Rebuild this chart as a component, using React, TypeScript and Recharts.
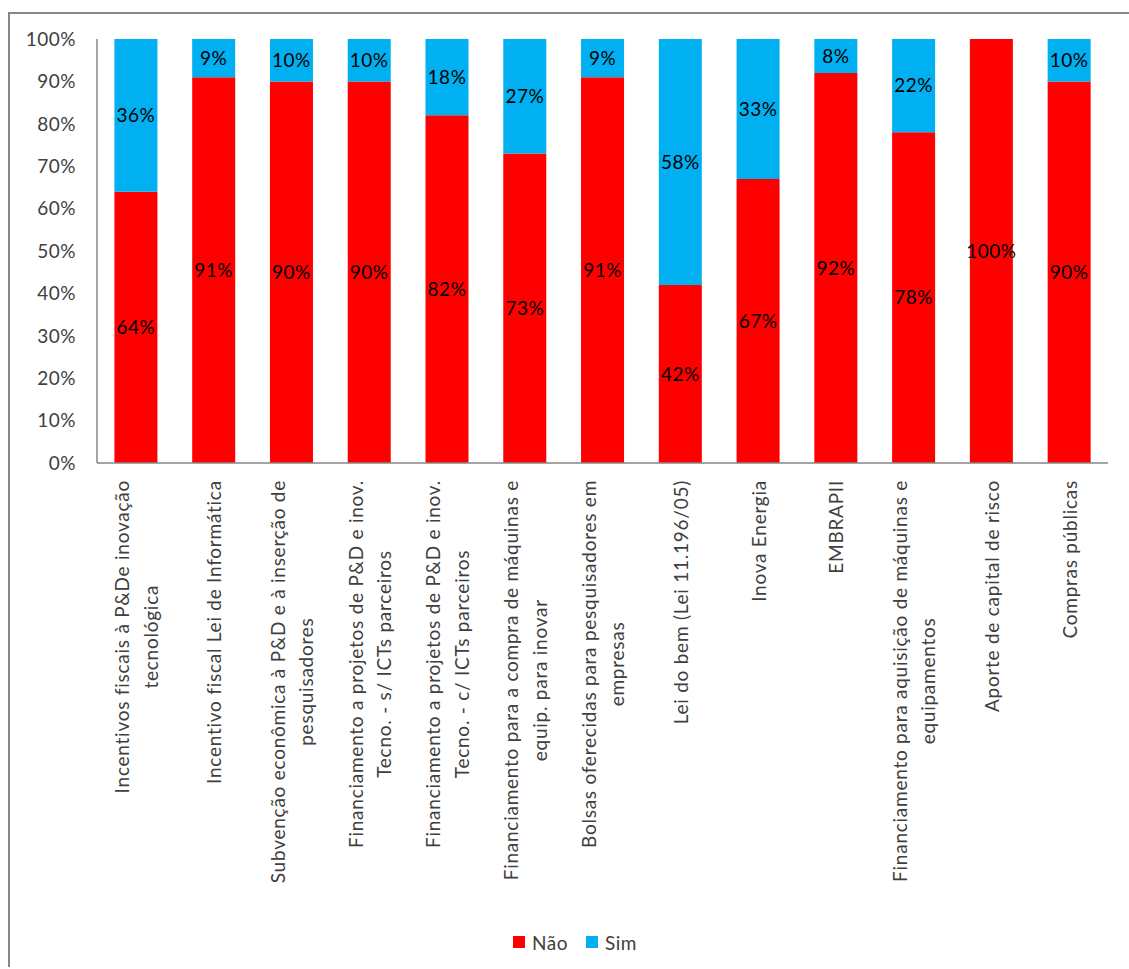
import React from 'react';
import { BarChart, Bar, XAxis, YAxis, Legend, LabelList } from 'recharts';

const categories: string[] = [
  'Incentivos fiscais à P&De inovação\ntecnológica',
  'Incentivo fiscal Lei de Informática',
  'Subvenção econômica à P&D e à inserção de\npesquisadores',
  'Financiamento a projetos de P&D e inov.\nTecno. - s/ ICTs parceiros',
  'Financiamento a projetos de P&D e inov.\nTecno. - c/ ICTs parceiros',
  'Financiamento para a compra de máquinas e\nequip. para inovar',
  'Bolsas oferecidas para pesquisadores em\nempresas',
  'Lei do bem (Lei 11.196/05)',
  'Inova Energia',
  'EMBRAPII',
  'Financiamento para aquisição de máquinas e\nequipamentos',
  'Aporte de capital de risco',
  'Compras públicas',
];

const naoValues: number[] = [64, 91, 90, 90, 82, 73, 91, 42, 67, 92, 78, 100, 90];
const simValues: number[] = [36, 9, 10, 10, 18, 27, 9, 58, 33, 8, 22, 0, 10];

const yTicks: number[] = [0, 10, 20, 30, 40, 50, 60, 70, 80, 90, 100];

const seriesNames = { nao: 'Não', sim: 'Sim' };
const colors = { nao: '#FF0000', sim: '#00B0F0' };

const data = categories.map((c, i) => ({ name: c, nao: naoValues[i], sim: simValues[i] }));

const FONT = 'Lato';
const FS = 19;
const LS = 0.75;
const LINE_H = 28.5;
const AXIS_COLOR = '#868686';
const TEXT_COLOR = '#404040';

let ctx: CanvasRenderingContext2D | null = null;
const measure = (s: string): number => {
  if (typeof document !== 'undefined') {
    if (!ctx) {
      const c = document.createElement('canvas');
      ctx = c.getContext('2d');
    }
    if (ctx) {
      ctx.font = `${FS}px ${FONT}`;
      return ctx.measureText(s).width + s.length * LS;
    }
  }
  return s.length * (FS * 0.5 + LS);
};

const XTick = (props: any) => {
  const { x, y, payload } = props;
  const lines: string[] = String(payload.value).split('\n');
  const maxW = Math.max(...lines.map(measure));
  const n = lines.length;
  const top = y + 17;
  return (
    <g transform={`translate(${x},${top}) rotate(-90)`}>
      {lines.map((ln, i) => (
        <text
          key={i}
          x={-maxW / 2}
          y={1 + 0.35 * FS + (i - (n - 1) / 2) * LINE_H}
          textAnchor="middle"
          fontFamily={FONT}
          fontSize={FS}
          letterSpacing={LS}
          fill={TEXT_COLOR}
        >
          {ln}
        </text>
      ))}
    </g>
  );
};

const LegendContent = (props: any) => {
  const payload = props.payload || [];
  return (
    <div style={{ height: 24, display: 'flex', alignItems: 'center', paddingLeft: 503, fontFamily: FONT, fontSize: FS, color: TEXT_COLOR, letterSpacing: 0.5 }}>
      {payload.map((p: any, i: number) => (
        <div key={i} style={{ display: 'flex', alignItems: 'center', marginRight: 18 }}>
          <span style={{ display: 'inline-block', width: 12, height: 12, background: p.color, marginRight: 7 }} />
          <span>{p.value}</span>
        </div>
      ))}
    </div>
  );
};

const pct = (v: any) => (Number(v) > 0 ? `${v}%` : '');

export default function App() {
  return (
    <div
      style={{
        position: 'absolute',
        left: 8,
        top: 12,
        width: 1121,
        height: 955,
        boxSizing: 'border-box',
        borderTop: `2px solid ${AXIS_COLOR}`,
        borderLeft: `2px solid ${AXIS_COLOR}`,
        background: '#fff',
      }}
    >
      <BarChart
        width={1119}
        height={945}
        data={data}
        margin={{ top: 25, right: 21, left: 27, bottom: 5 }}
        barCategoryGap="22.4%"
      >
        <XAxis
          dataKey="name"
          interval={0}
          height={467}
          tickLine={false}
          tickSize={0}
          tickMargin={0}
          axisLine={{ stroke: AXIS_COLOR, strokeWidth: 1.5 }}
          tick={<XTick />}
        />
        <YAxis
          width={60}
          domain={[0, 100]}
          ticks={yTicks}
          interval={0}
          tickFormatter={(v: number) => `${v}%`}
          tickLine={false}
          tickSize={0}
          tickMargin={21}
          axisLine={{ stroke: AXIS_COLOR, strokeWidth: 1.5 }}
          tick={{ fontFamily: FONT, fontSize: FS, fill: TEXT_COLOR, letterSpacing: 0.5 }}
        />
        <Legend
          verticalAlign="bottom"
          height={24}
          content={<LegendContent />}
          wrapperStyle={{ left: 0, width: 1119 }}
        />
        <Bar dataKey="nao" name={seriesNames.nao} stackId="a" fill={colors.nao} isAnimationActive={false}>
          <LabelList dataKey="nao" position="center" formatter={pct} fill="#000" fontFamily={FONT} fontSize={FS} letterSpacing={0.5} />
        </Bar>
        <Bar dataKey="sim" name={seriesNames.sim} stackId="a" fill={colors.sim} isAnimationActive={false}>
          <LabelList dataKey="sim" position="center" formatter={pct} fill="#000" fontFamily={FONT} fontSize={FS} letterSpacing={0.5} />
        </Bar>
      </BarChart>
    </div>
  );
}
